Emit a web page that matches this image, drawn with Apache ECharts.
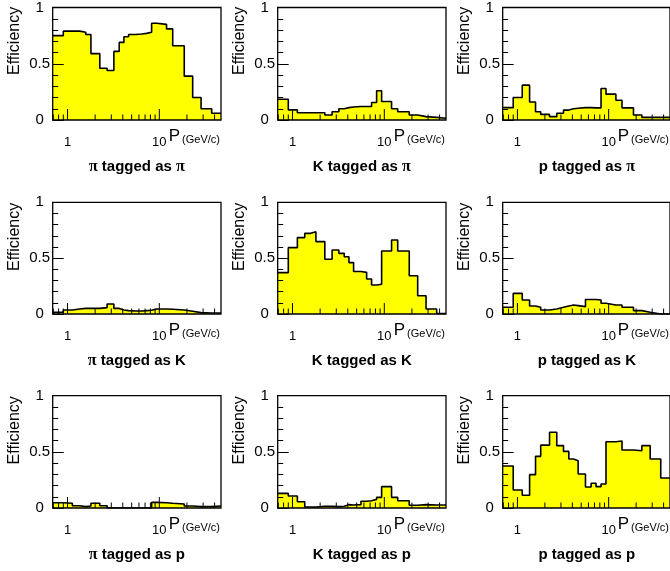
<!DOCTYPE html>
<html><head><meta charset="utf-8">
<script src="https://cdn.jsdelivr.net/npm/echarts@6/dist/echarts.min.js"></script>
<style>html,body{margin:0;padding:0;background:#fff}#c{width:670px;height:571px}</style>
</head><body><div id="c"></div>
<script>
// momentum bin edges (GeV/c), shared by all panels
const binEdges = [0.69, 0.9, 1.13, 1.36, 1.58, 1.8, 2.25, 2.7, 3.2, 3.66, 4.12, 4.63, 5.57, 6.42, 7.27, 8.25, 9.35, 12, 14, 18.7, 23.1, 28.5, 37.2, 47];

const panelTitles = [
  ['{g|π} tagged as {g|π}', 'K tagged as {g|π}', 'p tagged as {g|π}'],
  ['{g|π} tagged as K', 'K tagged as K', 'p tagged as K'],
  ['{g|π} tagged as p', 'K tagged as p', 'p tagged as p']
];

const piAsPi = [0.75, 0.79, 0.79, 0.78, 0.76, 0.59, 0.46, 0.44, 0.61, 0.69, 0.74, 0.76, 0.765, 0.77, 0.78, 0.86, 0.85, 0.81, 0.66, 0.39, 0.20, 0.10, 0.06];
const kAsPi  = [0.185, 0.09, 0.065, 0.065, 0.065, 0.065, 0.045, 0.073, 0.10, 0.11, 0.115, 0.12, 0.12, 0.12, 0.155, 0.26, 0.165, 0.10, 0.073, 0.044, 0.03, 0.023, 0.015];
const pAsPi  = [0.11, 0.20, 0.31, 0.16, 0.073, 0.05, 0.03, 0.06, 0.088, 0.10, 0.105, 0.11, 0.11, 0.108, 0.108, 0.28, 0.23, 0.175, 0.108, 0.044, 0.023, 0.023, 0.023];

const piAsK  = [0.015, 0.036, 0.045, 0.05, 0.05, 0.05, 0.057, 0.09, 0.05, 0.036, 0.03, 0.027, 0.027, 0.03, 0.033, 0.045, 0.045, 0.042, 0.036, 0.024, 0.012, 0.009, 0.009];
const kAsK   = [0.37, 0.594, 0.684, 0.722, 0.737, 0.648, 0.49, 0.573, 0.543, 0.513, 0.46, 0.38, 0.373, 0.313, 0.26, 0.266, 0.564, 0.663, 0.564, 0.343, 0.164, 0.045, 0.005];
const pAsK   = [0.06, 0.185, 0.125, 0.072, 0.06, 0.036, 0.045, 0.06, 0.072, 0.08, 0.075, 0.066, 0.13, 0.13, 0.125, 0.096, 0.08, 0.08, 0.06, 0.03, 0.015, 0.0, 0.0];

const piAsP  = [0.047, 0.042, 0.02, 0.012, 0.018, 0.042, 0.02, 0.0, 0.0, 0.0, 0.0, 0.0, 0.0, 0.0, 0.0, 0.05, 0.047, 0.042, 0.036, 0.018, 0.012, 0.012, 0.018];
const kAsP   = [0.13, 0.107, 0.056, 0.009, 0.009, 0.015, 0.015, 0.012, 0.015, 0.03, 0.027, 0.03, 0.06, 0.065, 0.077, 0.095, 0.19, 0.095, 0.065, 0.024, 0.03, 0.027, 0.027];
const pAsP   = [0.374, 0.16, 0.113, 0.297, 0.46, 0.56, 0.674, 0.555, 0.504, 0.436, 0.42, 0.303, 0.187, 0.22, 0.19, 0.214, 0.59, 0.596, 0.516, 0.51, 0.555, 0.436, 0.267];

const panelValues = [
  [piAsPi, kAsPi, pAsPi],
  [piAsK, kAsK, pAsK],
  [piAsP, kAsP, pAsP]
];

const xMajorTicks = [1, 10];
const xMajorLabels = ['1', '10'];
const xMinorTicks = [0.7, 0.8, 0.9, 2, 3, 4, 5, 6, 7, 8, 9, 20, 30, 40];
const xRange = [0.69, 47];

// layout
const colLeft = [52.7, 277.7, 502.7];
const plotW = 168.3;
const rowTop = [6.3, 202.3, 395.7];
const plotH = [113.7, 111.7, 112.3];
const FONT = 'Liberation Sans, Arial, Helvetica, sans-serif';

const grids = [], xAxes = [], yAxes = [], series = [], graphics = [];
let idx = 0;
for (let r = 0; r < 3; r++) {
  for (let c = 0; c < 3; c++) {
    grids.push({left: colLeft[c], top: rowTop[r], width: plotW, height: plotH[r],
      show: true, borderColor: '#000', borderWidth: 1.3, backgroundColor: 'transparent', z: 5});
    xAxes.push({type: 'log', logBase: 10, gridIndex: idx, min: xRange[0], max: xRange[1],
      axisLine: {show: false}, axisTick: {show: false}, axisLabel: {show: false}, splitLine: {show: false},
      name: '{p|P}{s|(GeV/c)}', nameLocation: 'end', nameGap: -1,
      nameTextStyle: {align: 'right', verticalAlign: 'top', padding: [8, 0, 0, 0],
        rich: {
          p: {fontSize: 17, fontFamily: FONT, color: '#000', verticalAlign: 'bottom'},
          s: {fontSize: 11, fontFamily: FONT, color: '#000', verticalAlign: 'bottom', padding: [0, 0, 0, 2]}
        }}
    });
    yAxes.push({type: 'value', gridIndex: idx, min: 0, max: 1, interval: 0.5, z: 6,
      axisLine: {show: false},
      axisTick: {show: true, inside: true, length: 11, lineStyle: {color: '#000', width: 1}},
      minorTick: {show: true, splitNumber: 5, length: 5.5, lineStyle: {color: '#000', width: 1}},
      axisLabel: {color: '#000', fontSize: 15, fontFamily: FONT, margin: 13, align: 'center'},
      splitLine: {show: false}, minorSplitLine: {show: false}
    });
    const vals = panelValues[r][c];
    const pts = vals.map((v, i) => [binEdges[i], v]);
    pts.push([binEdges[binEdges.length - 1], vals[vals.length - 1]]);
    series.push({type: 'line', xAxisIndex: idx, yAxisIndex: idx, data: pts, step: 'end',
      symbol: 'none', z: 2, lineStyle: {color: '#000', width: 1.6},
      areaStyle: {color: '#ffff00', opacity: 1}, animation: false});
    const tickData = xMajorTicks.map((v, i) => [v, 1, i]).concat(xMinorTicks.map(v => [v, 0, -1]));
    series.push({type: 'custom', xAxisIndex: idx, yAxisIndex: idx, data: tickData, z: 7, animation: false, silent: true,
      renderItem: function (params, api) {
        const p = api.coord([api.value(0), 0]);
        const major = api.value(1) === 1;
        const len = major ? 11 : 5.5;
        const children = [{type: 'line', shape: {x1: p[0], y1: p[1], x2: p[0], y2: p[1] - len},
          style: {stroke: '#000', lineWidth: 1}}];
        if (major) {
          children.push({type: 'text', x: p[0], y: p[1] + 22.5,
            style: {text: xMajorLabels[api.value(2)], font: '13px ' + FONT, fill: '#000', align: 'center', verticalAlign: 'middle'}});
        }
        return {type: 'group', children: children};
      }
    });
    // panel title
    graphics.push({type: 'text', x: colLeft[c] + plotW / 2, y: rowTop[r] + plotH[r] + 46.5,
      style: {text: panelTitles[r][c], font: 'bold 15px ' + FONT, fill: '#000', align: 'center', verticalAlign: 'middle',
        rich: {g: {font: 'bold 16px Liberation Serif, serif', fill: '#000'}}}});
    // y axis title
    graphics.push({type: 'text', x: colLeft[c] - 38.5, y: rowTop[r] + 0.5, rotation: Math.PI / 2,
      style: {text: 'Efficiency', font: '16px ' + FONT, fill: '#000', align: 'right', verticalAlign: 'middle'}});
    idx++;
  }
}

const chart = echarts.init(document.getElementById('c'), null, {renderer: 'canvas'});
chart.setOption({
  animation: false,
  backgroundColor: '#fff',
  grid: grids, xAxis: xAxes, yAxis: yAxes, series: series, graphic: graphics
});
</script></body></html>
